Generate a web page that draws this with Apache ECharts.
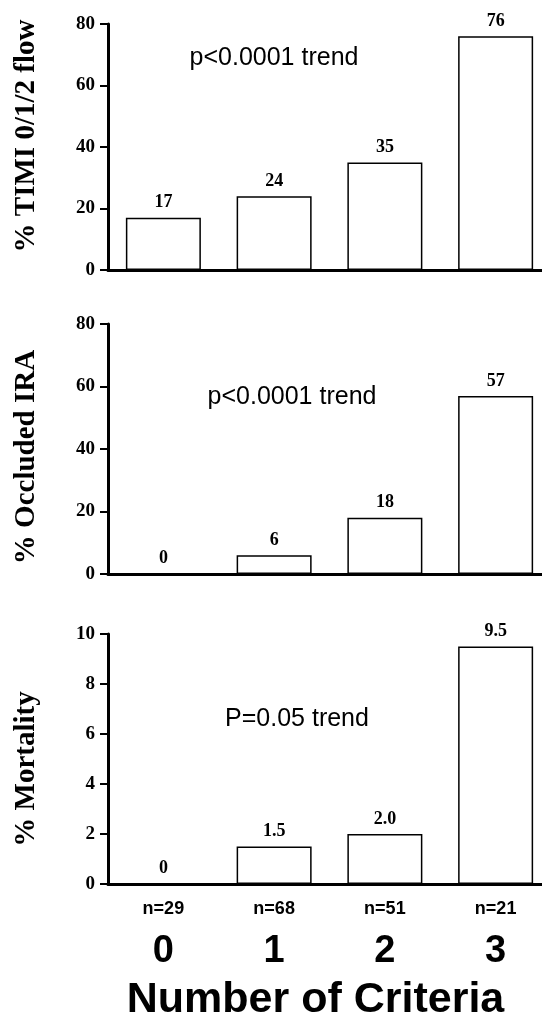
<!DOCTYPE html>
<html>
<head>
<meta charset="utf-8">
<script src="https://cdn.jsdelivr.net/npm/echarts@6/dist/echarts.min.js"></script>
<style>html,body{margin:0;padding:0;background:#fff;}#c{width:542px;height:1015px;}</style>
</head>
<body>
<div id="c"></div>
<script>
const categories = ['0', '1', '2', '3'];
const nCounts = ['n=29', 'n=68', 'n=51', 'n=21'];
const timiFlow = [17, 24, 35, 76];
const occludedIRA = [0, 6, 18, 57];
const mortality = [0, 1.5, 2.0, 9.5];
const panelNames = ['% TIMI 0/1/2 flow', '% Occluded IRA', '% Mortality'];
const trendTexts = ['p<0.0001 trend', 'p<0.0001 trend', 'P=0.05 trend'];
const yMax = [80, 80, 10];
const yInterval = [20, 20, 2];

const serif = '"Liberation Serif", "Times New Roman", serif';
const sans = '"Liberation Sans", Arial, sans-serif';

const grids = [
  {left: 108, width: 443, top: 24, height: 246, outerBoundsMode: 'none', containLabel: false},
  {left: 108, width: 443, top: 324, height: 250, outerBoundsMode: 'none', containLabel: false},
  {left: 108, width: 443, top: 634, height: 250, outerBoundsMode: 'none', containLabel: false}
];
const namePadding = [[0, 0, 0, 22], [0, 16, 0, 0], [0, 20, 0, 0]];

const xAxes = grids.map((g, i) => ({
  type: 'category', gridIndex: i, data: categories,
  axisLine: {lineStyle: {color: '#000', width: 3}},
  axisTick: {show: false},
  axisLabel: i < 2 ? {show: false} : {
    margin: 13,
    formatter: (v, idx) => '{n|' + nCounts[idx] + '}\n{d|' + v + '}',
    rich: {
      n: {fontFamily: sans, fontWeight: 'bold', fontSize: 18, color: '#000', lineHeight: 24},
      d: {fontFamily: sans, fontWeight: 'bold', fontSize: 38, color: '#000', lineHeight: 62}
    }
  },
  name: i === 2 ? 'Number of Criteria' : '',
  nameLocation: 'middle',
  nameGap: 95,
  nameTextStyle: {fontFamily: sans, fontWeight: 'bold', fontSize: 43, color: '#000', padding: [0, 28, 0, 0]}
}));

const yAxes = grids.map((g, i) => ({
  type: 'value', gridIndex: i, min: 0, max: yMax[i], interval: yInterval[i],
  splitLine: {show: false},
  axisLine: {show: true, lineStyle: {color: '#000', width: 3}},
  axisTick: {show: true, length: 8, lineStyle: {color: '#000', width: 2}},
  axisLabel: {fontFamily: serif, fontWeight: 'bold', fontSize: 19, color: '#000', margin: 13},
  name: panelNames[i],
  nameLocation: 'middle',
  nameGap: 67,
  nameTextStyle: {fontFamily: serif, fontWeight: 'bold', fontSize: 29, color: '#000', padding: namePadding[i]}
}));

const seriesData = [timiFlow, occludedIRA, mortality];
const series = seriesData.map((d, i) => ({
  type: 'bar', xAxisIndex: i, yAxisIndex: i, data: d, barWidth: 75,
  itemStyle: {color: '#fff', borderColor: '#000', borderWidth: 1.5},
  label: {
    show: true, position: 'top', distance: 6,
    fontFamily: serif, fontWeight: 'bold', fontSize: 18, color: '#000',
    formatter: p => i === 2 ? (p.value === 0 ? '0' : p.value.toFixed(1)) : String(p.value)
  },
  silent: true
}));

const trendPos = [[274, 58], [292, 397], [297, 719]];
const graphic = trendTexts.map((t, i) => ({
  type: 'text', x: trendPos[i][0], y: trendPos[i][1],
  style: {text: t, fontFamily: sans, fontSize: 25, fill: '#000', align: 'center', verticalAlign: 'middle'}
}));

const chart = echarts.init(document.getElementById('c'), null, {renderer: 'canvas'});
chart.setOption({
  animation: false,
  backgroundColor: '#fff',
  grid: grids,
  xAxis: xAxes,
  yAxis: yAxes,
  series: series,
  graphic: graphic
});
</script>
</body>
</html>
